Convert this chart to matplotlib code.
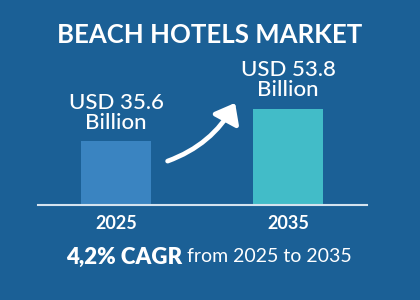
from matplotlib import pyplot as plt
from matplotlib.patches import FancyArrowPatch

years = ['2025', '2035']
values = [35.6, 53.8]
labels = ['USD 35.6\nBillion', 'USD 53.8\nBillion']
colors = ['#3a84c1', '#42bcc8']
bg = '#1b6096'

plt.rcParams['font.family'] = ['Lato', 'DejaVu Sans']

fig = plt.figure(figsize=(4.2, 3.0), dpi=100, facecolor=bg)
# axes placed in pixels: left 38, right 367, baseline at y=205 from top
ax = fig.add_axes([38 / 420, 95 / 300, 329 / 420, 145 / 300])
ax.set_facecolor(bg)

x = [0, 1]
ax.bar(x, values, width=0.41, color=colors)
ax.set_xlim(-0.453, 1.459)
ax.set_ylim(0, 81)

for xi, v, lab in zip(x, values, labels):
    ax.annotate(lab, (xi, v), xytext=(0, 6), textcoords='offset points',
                ha='center', va='bottom', color='white', fontsize=16,
                fontweight='medium', linespacing=1.0)

for s in ['top', 'left', 'right']:
    ax.spines[s].set_visible(False)
ax.spines['bottom'].set_color('#d5e3ef')
ax.spines['bottom'].set_linewidth(1.5)
ax.set_yticks([])
ax.set_xticks(x, years)
ax.tick_params(axis='x', length=0, pad=7, colors='white', labelsize=13)
for t in ax.get_xticklabels():
    t.set_fontweight('bold')

arrow = FancyArrowPatch((0.285, 24.0), (0.70, 58.4),
                        connectionstyle='arc3,rad=0.2',
                        arrowstyle='-|>,head_length=7,head_width=5.5',
                        color='white', lw=3.4, mutation_scale=1.6,
                        capstyle='round')
ax.add_patch(arrow)

fig.text(0.5, 1 - 35 / 300, 'BEACH HOTELS MARKET', ha='center', va='center',
         color='white', fontsize=18.5, fontweight='bold')
fig.text(182 / 420, 1 - 257 / 300, '4,2% CAGR', ha='right', va='center',
         color='white', fontsize=16, fontweight='heavy')
fig.text(187 / 420, 1 - 257 / 300, 'from 2025 to 2035', ha='left', va='center',
         color='white', fontsize=14)

plt.savefig('out.png', facecolor=bg)
